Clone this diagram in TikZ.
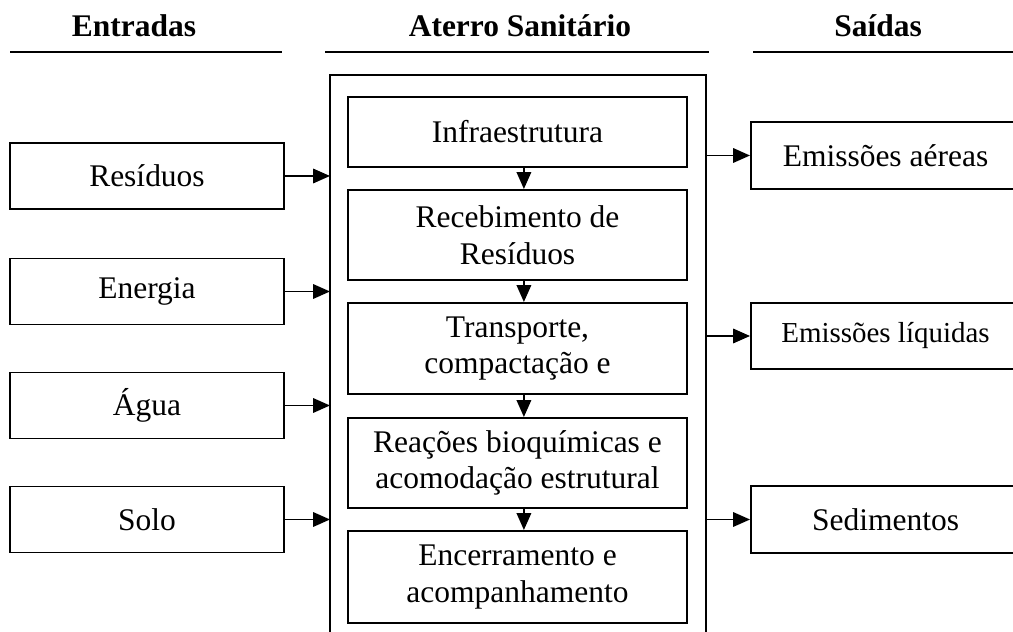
\documentclass[tikz,border=0pt]{standalone}
\usepackage{fontspec}
\setmainfont{Liberation Serif}
\usetikzlibrary{arrows.meta}

\begin{document}
\begin{tikzpicture}[font = \fontsize{22.4}{26}\selectfont,
        caixa/.style = {draw, line width = 1.4pt, align = center, inner sep = 0pt},
        entrada/.style = {caixa, minimum width = 6.85cm, minimum height = 1.65cm},
        etapa/.style = {caixa, minimum width = 8.475cm},
        saida/.style = {caixa, minimum width = 6.725cm, minimum height = 1.67cm},
        titulo/.style = {font = \fontsize{22.4}{26}\selectfont\bfseries},
        seta/.style = {line width = 1.3pt, -{Triangle[length = 0.42cm, width = 0.36cm]}}]
        \useasboundingbox (0,0) rectangle (25.325,15.8);

        \node[titulo] (tEnt) at (3.35,15.15) {Entradas};
        \node[titulo] (tAte) at (13,15.15) {Aterro Sanitário};
        \node[titulo] (tSai) at (21.95,15.15) {Saídas};
        \draw [line width = 1.4pt] (0.25,14.5) -- (7.05,14.5);
        \draw [line width = 1.4pt] (8.125,14.5) -- (17.725,14.5);
        \draw [line width = 1.4pt] (18.825,14.5) -- (25.4,14.5);

        \draw [line width = 1.4pt]
        (8.25,-0.1) coordinate (abl) --
        (8.25,13.925) coordinate (atl) --
        (17.65,13.925) coordinate (atr) --
        (17.65,-0.1) coordinate (abr);

        \node[entrada] (res) at (3.675,11.4) {Resíduos};
        \node[entrada] (ene) at (3.675,8.5125) {Energia};
        \node[entrada] (agu) at (3.675,5.6625) {Água};
        \node[entrada] (sol) at (3.675,2.8125) {Solo};

        \node[etapa, minimum height = 1.75cm] (inf) at (12.9375,12.5) {Infraestrutura};
        \node[etapa, minimum height = 2.25cm] (rec) at (12.9375,9.925) {Recebimento de\\Resíduos};
        \node[etapa, minimum height = 2.275cm] (tra) at (12.9375,7.0875) {Transporte,\\compactação e};
        \node[etapa, minimum height = 2.25cm] (rea) at (12.9375,4.225) {Reações bioquímicas e\\acomodação estrutural};
        \node[etapa, minimum height = 2.3cm] (enc) at (12.9375,1.375) {Encerramento e\\acompanhamento};

        \node[saida] (aer) at (22.1375,11.9125) {Emissões aéreas};
        \node[saida, font = \fontsize{20.6}{24}\selectfont] (liq) at (22.1375,7.4) {Emissões líquidas};
        \node[saida] (sed) at (22.1375,2.8125) {Sedimentos};

        \draw [seta] (res.east) -- (res.east -| atl);
        \draw [seta] (ene.east) -- (ene.east -| atl);
        \draw [seta] (agu.east) -- (agu.east -| atl);
        \draw [seta] (sol.east) -- (sol.east -| atl);

        \draw [seta] ([xshift = 1.6mm]inf.south) -- ([xshift = 1.6mm]rec.north);
        \draw [seta] ([xshift = 1.6mm]rec.south) -- ([xshift = 1.6mm]tra.north);
        \draw [seta] ([xshift = 1.6mm]tra.south) -- ([xshift = 1.6mm]rea.north);
        \draw [seta] ([xshift = 1.6mm]rea.south) -- ([xshift = 1.6mm]enc.north);

        \draw [seta] (aer.west -| atr) -- (aer.west);
        \draw [seta] (liq.west -| atr) -- (liq.west);
        \draw [seta] (sed.west -| atr) -- (sed.west);
    \end{tikzpicture}
\end{document}
